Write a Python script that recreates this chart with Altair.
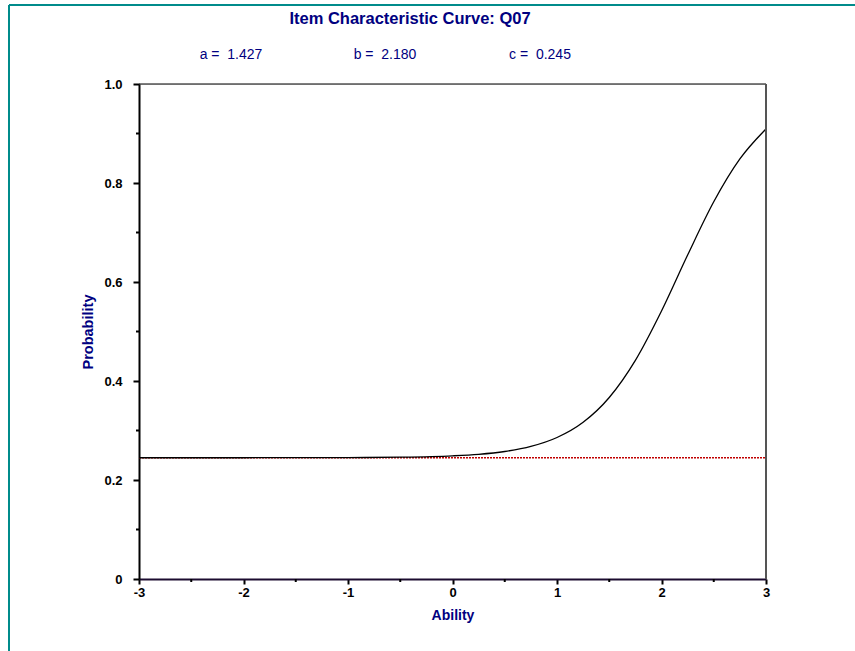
import altair as alt
import pandas as pd

# Values
ability = [-3.0, -2.5, -2.0, -1.5, -1.0, -0.5, 0.0, 0.25, 0.5, 0.75, 1.0, 1.25,
           1.5, 1.75, 2.0, 2.25, 2.5, 2.75, 3.0]
probability = [0.2450, 0.2450, 0.2450, 0.2451, 0.2453, 0.2461, 0.2488, 0.2519,
               0.2576, 0.2678, 0.2858, 0.3166, 0.3667, 0.4417, 0.5414, 0.6545,
               0.7621, 0.8486, 0.9092]
guess_level = 0.245
x_range = [-3, 3]
params = ["a =\u00a0\u00a01.427", "b =\u00a0\u00a02.180", "c =\u00a0\u00a00.245"]
title_text = "Item Characteristic Curve: Q07"

NAVY = "#000080"
FONT = "Liberation Sans"
W, H = 627, 495
L, T = 139, 84

curve_df = pd.DataFrame({"Ability": ability, "Probability": probability})
guess_df = pd.DataFrame({"x": [x_range[0]], "x2": [x_range[1]], "y": [guess_level]})

xscale = alt.Scale(domain=x_range, nice=False, zero=False)
yscale = alt.Scale(domain=[0, 1], nice=False)

x_axis = alt.Axis(
    title="Ability", values=[-3, -2, -1, 0, 1, 2, 3],
    labelExpr="datum.value < 0 ? '-' + format(-datum.value, 'd') : format(datum.value, 'd')",
    labelFont=FONT, labelFontWeight="bold", labelFontSize=13, labelColor="black",
    titleFont=FONT, titleFontWeight="bold", titleFontSize=14, titleColor=NAVY,
    titlePadding=9, domainColor="#1c0c30", domainWidth=2, tickColor="black", tickWidth=2,
    tickSize=5, labelPadding=2, grid=False, labelFlush=False,
)
y_axis = alt.Axis(
    title="Probability", values=[0, 0.2, 0.4, 0.6, 0.8, 1.0],
    labelExpr="datum.value == 0 ? '0' : format(datum.value, '.1f')",
    labelFont=FONT, labelFontWeight="bold", labelFontSize=13, labelColor="black",
    titleFont=FONT, titleFontWeight="bold", titleFontSize=14.5, titleColor=NAVY,
    titlePadding=8, domainColor="black", domainWidth=2, tickColor="black", tickWidth=2,
    tickSize=6, labelPadding=11, grid=False, labelFlush=False,
)

# minor ticks
minor_x = pd.DataFrame({"v": [-2.5, -1.5, -0.5, 0.5, 1.5, 2.5]})
minor_y = pd.DataFrame({"v": [0.1, 0.3, 0.5, 0.7, 0.9]})

curve = alt.Chart(curve_df).mark_line(color="black", strokeWidth=1.3, interpolate="monotone").encode(
    x=alt.X("Ability:Q", scale=xscale, axis=x_axis),
    y=alt.Y("Probability:Q", scale=yscale, axis=y_axis),
)

guess = alt.Chart(guess_df).mark_rule(color="#c00000", strokeWidth=1.5, strokeDash=[2, 1]).encode(
    x=alt.X("x:Q", scale=xscale), x2="x2:Q", y=alt.Y("y:Q", scale=yscale)
)

mx = alt.Chart(minor_x).mark_rule(color="black", strokeWidth=2).encode(
    x=alt.X("v:Q", scale=xscale), y=alt.value(H), y2=alt.value(H + 3)
)
my = alt.Chart(minor_y).mark_rule(color="black", strokeWidth=2).encode(
    y=alt.Y("v:Q", scale=yscale), x=alt.value(0), x2=alt.value(-3)
)

right_border = alt.Chart(pd.DataFrame({"x": [x_range[1]]})).mark_rule(color="#555555", strokeWidth=2).encode(
    x=alt.X("x:Q", scale=xscale), y=alt.value(0), y2=alt.value(H)
)
top_border = alt.Chart(pd.DataFrame({"y": [1.0]})).mark_rule(color="black", strokeWidth=1.2).encode(
    y=alt.Y("y:Q", scale=yscale), x=alt.value(0), x2=alt.value(W)
)

title = alt.Chart(pd.DataFrame({"t": [title_text]})).mark_text(
    font=FONT, fontWeight="bold", fontSize=16.5, color=NAVY, align="center", baseline="middle"
).encode(text="t:N", x=alt.value(410 - L), y=alt.value(19 - T))

param_df = pd.DataFrame({"t": params, "px": [231 - L, 385 - L, 540 - L]})
param_text = alt.Chart(param_df).mark_text(
    font=FONT, fontSize=14, color=NAVY, align="center", baseline="middle"
).encode(text="t:N", x=alt.X("px:Q", scale=None), y=alt.value(55 - T))

frame_top = alt.Chart(pd.DataFrame({"a": [0]})).mark_rule(color="#008b8b", strokeWidth=2).encode(
    x=alt.value(9 - L), x2=alt.value(860 - L), y=alt.value(5 - T)
)
frame_left = alt.Chart(pd.DataFrame({"a": [0]})).mark_rule(color="#008b8b", strokeWidth=2).encode(
    x=alt.value(9 - L), y=alt.value(5 - T), y2=alt.value(660 - T)
)

chart = alt.layer(
    frame_top, frame_left, guess, curve, mx, my, top_border, right_border, title, param_text
).properties(
    width=W, height=H,
    autosize=alt.AutoSizeParams(type="none"),
    padding={"left": L, "top": T, "right": 855 - L - W, "bottom": 651 - T - H},
).configure_view(
    stroke=None
).configure(background="white")

chart.save("out.html", embed_options={"renderer": "svg", "actions": False})
